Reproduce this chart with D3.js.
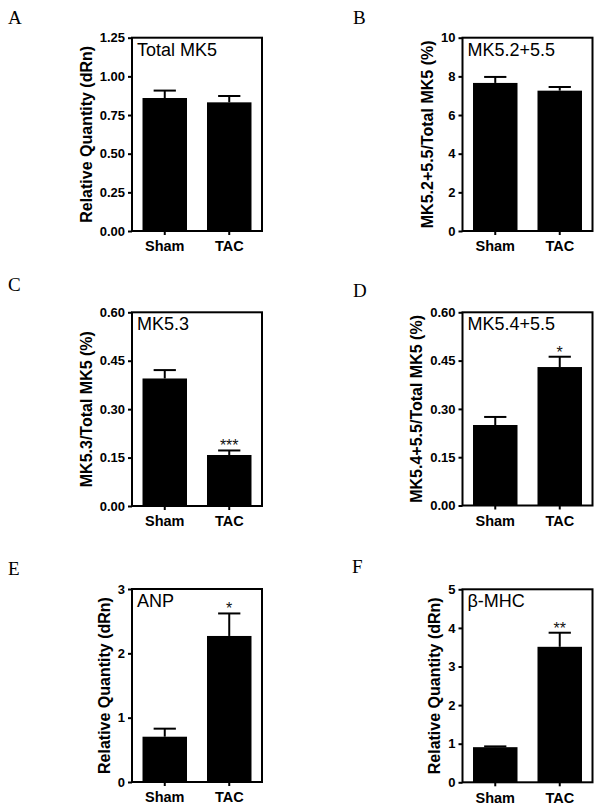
<!DOCTYPE html>
<html>
<head>
<meta charset="utf-8">
<script src="https://cdn.jsdelivr.net/npm/d3@7"></script>
<style>
  html, body { margin: 0; padding: 0; background: #fff; }
  svg { display: block; }
</style>
</head>
<body>
<svg id="chart" width="604" height="812"></svg>
<script>
// ---------------- data ----------------
const categories = ["Sham", "TAC"];
const panelLetters = ["A", "B", "C", "D", "E", "F"];
const panelTitles = ["Total MK5", "MK5.2+5.5", "MK5.3", "MK5.4+5.5", "ANP", "β-MHC"];
const yAxisLabels = [
  "Relative Quantity (dRn)",
  "MK5.2+5.5/Total MK5 (%)",
  "MK5.3/Total MK5 (%)",
  "MK5.4+5.5/Total MK5 (%)",
  "Relative Quantity (dRn)",
  "Relative Quantity (dRn)"
];
const meansA = [0.86, 0.832];
const meansB = [7.66, 7.26];
const meansC = [0.395, 0.158];
const meansD = [0.25, 0.43];
const meansE = [0.704, 2.27];
const meansF = [0.91, 3.51];
const errorsA = [0.048, 0.041];
const errorsB = [0.31, 0.19];
const errorsC = [0.026, 0.014];
const errorsD = [0.025, 0.032];
const errorsE = [0.125, 0.35];
const errorsF = [0.02, 0.365];
const yMaxes = [1.25, 10, 0.6, 0.6, 3, 5];
const ticksA = [0, 0.25, 0.5, 0.75, 1.0, 1.25];
const ticksB = [0, 2, 4, 6, 8, 10];
const ticksC = [0, 0.15, 0.30, 0.45, 0.60];
const ticksD = [0, 0.15, 0.30, 0.45, 0.60];
const ticksE = [0, 1, 2, 3];
const ticksF = [0, 1, 2, 3, 4, 5];
const tickFormats = [".2f", "d", ".2f", ".2f", "d", "d"];
const signifA = ["", ""];
const signifB = ["", ""];
const signifC = ["", "***"];
const signifD = ["", "*"];
const signifE = ["", "*"];
const signifF = ["", "**"];

const allMeans = [meansA, meansB, meansC, meansD, meansE, meansF];
const allErrors = [errorsA, errorsB, errorsC, errorsD, errorsE, errorsF];
const allTicks = [ticksA, ticksB, ticksC, ticksD, ticksE, ticksF];
const allSignif = [signifA, signifB, signifC, signifD, signifE, signifF];

// ---------------- layout ----------------
const frames = [
  { x0: 132,   x1: 262,   y0: 37.7,  y1: 231,   lx: 8,   ly: 23.5 },
  { x0: 462.5, x1: 592.5, y0: 37.7,  y1: 231,   lx: 353, ly: 23.5 },
  { x0: 132,   x1: 262,   y0: 312.3, y1: 506,   lx: 8,   ly: 290.5 },
  { x0: 462.5, x1: 592.5, y0: 312.3, y1: 505.5, lx: 353, ly: 296.5 },
  { x0: 132,   x1: 262,   y0: 589,   y1: 782,   lx: 8,   ly: 575 },
  { x0: 462.5, x1: 592.5, y0: 589.3, y1: 782.3, lx: 352, ly: 573 }
];

const SANS = "'Liberation Sans', Arial, Helvetica, sans-serif";
const SERIF = "'Liberation Serif', 'Times New Roman', serif";

const svg = d3.select("#chart");

frames.forEach((f, i) => {
  const g = svg.append("g");
  const y = d3.scaleLinear().domain([0, yMaxes[i]]).range([f.y1, f.y0]);
  const x = d3.scaleBand().domain(categories).range([f.x0, f.x1])
    .paddingInner(0.31).paddingOuter(0.163);

  // panel letter
  svg.append("text")
    .attr("x", f.lx).attr("y", f.ly)
    .attr("font-family", SERIF).attr("font-size", 19)
    .attr("fill", "#000")
    .text(panelLetters[i]);

  const rows = categories.map((c, k) => ({
    cat: c, mean: allMeans[i][k], err: allErrors[i][k], sig: allSignif[i][k]
  }));

  // bars
  g.selectAll("rect.bar").data(rows).enter().append("rect")
    .attr("class", "bar")
    .attr("x", d => x(d.cat))
    .attr("width", x.bandwidth())
    .attr("y", d => y(d.mean))
    .attr("height", d => y(0) - y(d.mean))
    .attr("fill", "#000");

  // error bars (upper only)
  g.selectAll("line.err").data(rows).enter().append("line")
    .attr("x1", d => x(d.cat) + x.bandwidth() / 2)
    .attr("x2", d => x(d.cat) + x.bandwidth() / 2)
    .attr("y1", d => y(d.mean))
    .attr("y2", d => y(d.mean + d.err))
    .attr("stroke", "#000").attr("stroke-width", 2);
  g.selectAll("line.cap").data(rows).enter().append("line")
    .attr("x1", d => x(d.cat) + x.bandwidth() / 4)
    .attr("x2", d => x(d.cat) + x.bandwidth() * 3 / 4)
    .attr("y1", d => y(d.mean + d.err))
    .attr("y2", d => y(d.mean + d.err))
    .attr("stroke", "#000").attr("stroke-width", 2);

  // significance stars
  g.selectAll("text.sig").data(rows.filter(d => d.sig)).enter().append("text")
    .attr("x", d => x(d.cat) + x.bandwidth() / 2)
    .attr("y", d => y(d.mean + d.err) + 1)
    .attr("text-anchor", "middle")
    .attr("font-family", SANS).attr("font-size", 16)
    .attr("fill", "#111")
    .text(d => d.sig);

  // frame
  g.append("rect")
    .attr("x", f.x0).attr("y", f.y0)
    .attr("width", f.x1 - f.x0).attr("height", f.y1 - f.y0)
    .attr("fill", "none").attr("stroke", "#000").attr("stroke-width", 2);

  // y axis
  const ya = g.append("g").attr("transform", `translate(${f.x0},0)`)
    .call(d3.axisLeft(y).tickValues(allTicks[i]).tickFormat(d3.format(tickFormats[i]))
      .tickSize(4).tickPadding(3));
  ya.select(".domain").remove();
  ya.selectAll(".tick line").attr("stroke", "#000").attr("stroke-width", 2);
  ya.selectAll(".tick text").attr("font-family", SANS).attr("font-size", 13)
    .attr("font-weight", "bold").attr("fill", "#000");

  // x axis
  const xa = g.append("g").attr("transform", `translate(0,${f.y1})`)
    .call(d3.axisBottom(x).tickSize(4).tickPadding(6));
  xa.select(".domain").remove();
  xa.selectAll(".tick line").attr("stroke", "#000").attr("stroke-width", 2);
  xa.selectAll(".tick text").attr("font-family", SANS).attr("font-size", 14.5)
    .attr("font-weight", "bold").attr("fill", "#000");

  // y label positioned from tick label widths
  let maxW = 0;
  ya.selectAll(".tick text").each(function () {
    maxW = Math.max(maxW, this.getBBox().width);
  });
  const lxPos = f.x0 - 7 - maxW - 8;
  g.append("text")
    .attr("transform", `translate(${lxPos},${(f.y0 + f.y1) / 2}) rotate(-90)`)
    .attr("text-anchor", "middle")
    .attr("font-family", SANS).attr("font-size", 16).attr("font-weight", "bold")
    .attr("fill", "#000")
    .text(yAxisLabels[i]);

  // inset title
  g.append("text")
    .attr("x", f.x0 + 5).attr("y", f.y0 + 18)
    .attr("font-family", SANS).attr("font-size", 18)
    .attr("fill", "#000")
    .text(panelTitles[i]);
});
</script>
</body>
</html>
